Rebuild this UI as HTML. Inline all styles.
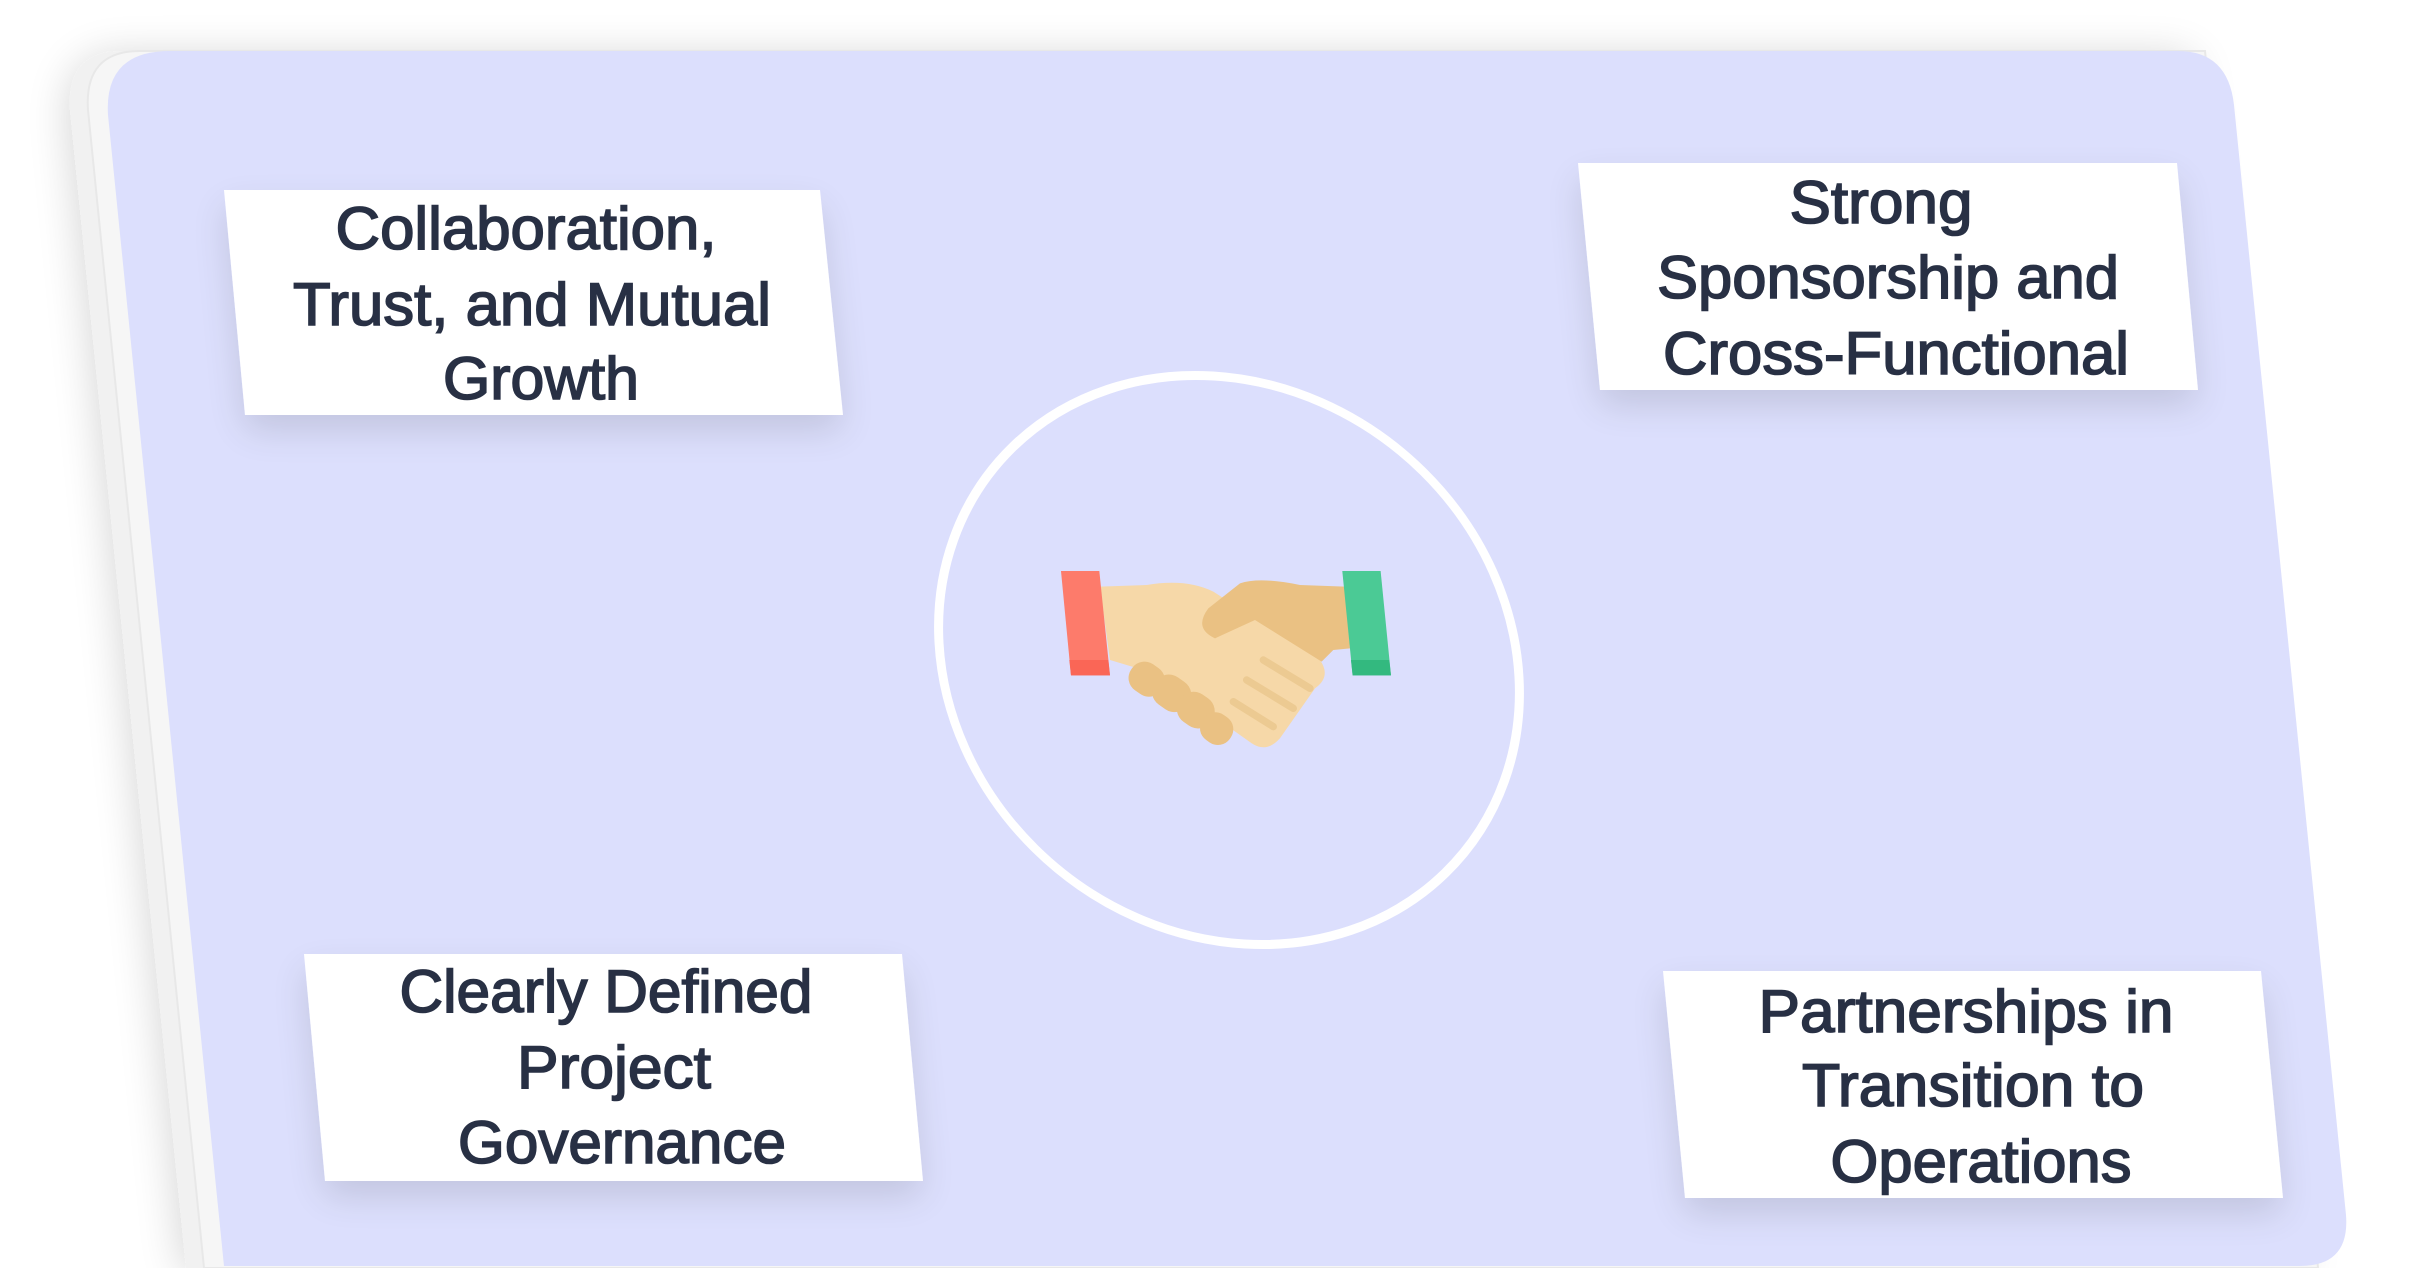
<!DOCTYPE html>
<html><head><meta charset="utf-8"><style>
html,body{margin:0;padding:0;background:#fff;}
svg{display:block;}
text{font-family:"Liberation Sans",sans-serif;fill:#283044;stroke:#283044;stroke-width:1.6px;font-size:60px;text-anchor:middle;}
</style></head><body>
<svg width="2417" height="1268" viewBox="0 0 2417 1268" xmlns="http://www.w3.org/2000/svg">
<defs>
<filter id="sh" x="-10%" y="-10%" width="120%" height="120%"><feGaussianBlur in="SourceAlpha" stdDeviation="22"/><feOffset dy="6"/><feComponentTransfer><feFuncA type="linear" slope="0.18"/></feComponentTransfer><feMerge><feMergeNode/><feMergeNode in="SourceGraphic"/></feMerge></filter>
<filter id="bs" x="-20%" y="-20%" width="140%" height="150%"><feGaussianBlur in="SourceAlpha" stdDeviation="18"/><feOffset dy="16"/><feComponentTransfer><feFuncA type="linear" slope="0.12"/></feComponentTransfer><feMerge><feMergeNode/><feMergeNode in="SourceGraphic"/></feMerge></filter>
</defs>
<path filter="url(#sh)" d="M122,51 L2190,51 L2300,1268 L186,1268 L70,110 Q66,51 122,51 Z" fill="#f1f1f1"/>
<path d="M140,51 L2205,51 L2318,1268 L204,1268 L88,110 Q84,51 140,51 Z" fill="#f6f6f6" stroke="#e8e8e8" stroke-width="2"/>
<path d="M170,51 L2178,51 Q2228,51 2234,105 L2346,1215 Q2350,1266 2300,1266 L224,1266 L108,115 Q104,51 170,51 Z" fill="#dcdffd"/>
<ellipse cx="0" cy="0" rx="290" ry="284" fill="none" stroke="#ffffff" stroke-width="9" transform="matrix(1,0.06,0.055,1,1229,660)"/>
<g filter="url(#bs)">
<polygon points="224,190 820,190 843,415 245,415" fill="#fff"/>
<polygon points="1578,163 2177,163 2198,390 1600,390" fill="#fff"/>
<polygon points="304,954 902,954 923,1181 325,1181" fill="#fff"/>
<polygon points="1663,971 2261,971 2283,1198 1685,1198" fill="#fff"/>
</g>
<text x="526" y="249" textLength="381" lengthAdjust="spacingAndGlyphs">Collaboration,</text>
<text x="532" y="325" textLength="478" lengthAdjust="spacingAndGlyphs">Trust, and Mutual</text>
<text x="541" y="399" textLength="196" lengthAdjust="spacingAndGlyphs">Growth</text>
<text x="1881" y="223" textLength="183" lengthAdjust="spacingAndGlyphs">Strong</text>
<text x="1888" y="298" textLength="462" lengthAdjust="spacingAndGlyphs">Sponsorship and</text>
<text x="1896" y="374" textLength="466" lengthAdjust="spacingAndGlyphs">Cross-Functional</text>
<text x="606" y="1012" textLength="413" lengthAdjust="spacingAndGlyphs">Clearly Defined</text>
<text x="614" y="1088" textLength="194" lengthAdjust="spacingAndGlyphs">Project</text>
<text x="622" y="1163" textLength="328" lengthAdjust="spacingAndGlyphs">Governance</text>
<text x="1966" y="1032" textLength="415" lengthAdjust="spacingAndGlyphs">Partnerships in</text>
<text x="1973" y="1106" textLength="342" lengthAdjust="spacingAndGlyphs">Transition to</text>
<text x="1981" y="1182" textLength="301" lengthAdjust="spacingAndGlyphs">Operations</text>
<g transform="translate(1000,520) scale(0.3333)">
<path d="M300,200 L440,195 Q560,175 640,215 L960,420 Q995,470 945,505 L840,655 Q800,700 755,670 L600,560 L430,450 L330,420 Z" fill="#f6d8a8"/>
<path d="M1035,200 L900,195 Q780,170 720,190 L625,265 Q580,325 645,355 L765,300 L965,425 L1000,390 L1050,385 Z" fill="#eac183"/>
<g stroke="#ecca92" stroke-width="22" stroke-linecap="round" fill="none">
<line x1="790" y1="420" x2="930" y2="505"/>
<line x1="740" y1="480" x2="880" y2="565"/>
<line x1="700" y1="545" x2="820" y2="620"/>
</g>
<g fill="#eac183">
<rect x="385" y="430" width="110" height="95" rx="45" transform="rotate(35 440 478)"/>
<rect x="455" y="470" width="120" height="100" rx="48" transform="rotate(35 515 520)"/>
<rect x="530" y="520" width="115" height="100" rx="48" transform="rotate(35 587 570)"/>
<rect x="600" y="580" width="100" height="92" rx="44" transform="rotate(35 650 626)"/>
</g>
<polygon points="183,153 298,153 330,466 213,466" fill="#fd7b6b"/>
<polygon points="208,420 325,420 330,466 213,466" fill="#fa6656"/>
<polygon points="1027,153 1142,153 1173,466 1058,466" fill="#4bca95"/>
<polygon points="1053,420 1168,420 1173,466 1058,466" fill="#33b97f"/>
</g>
</svg>
</body></html>
